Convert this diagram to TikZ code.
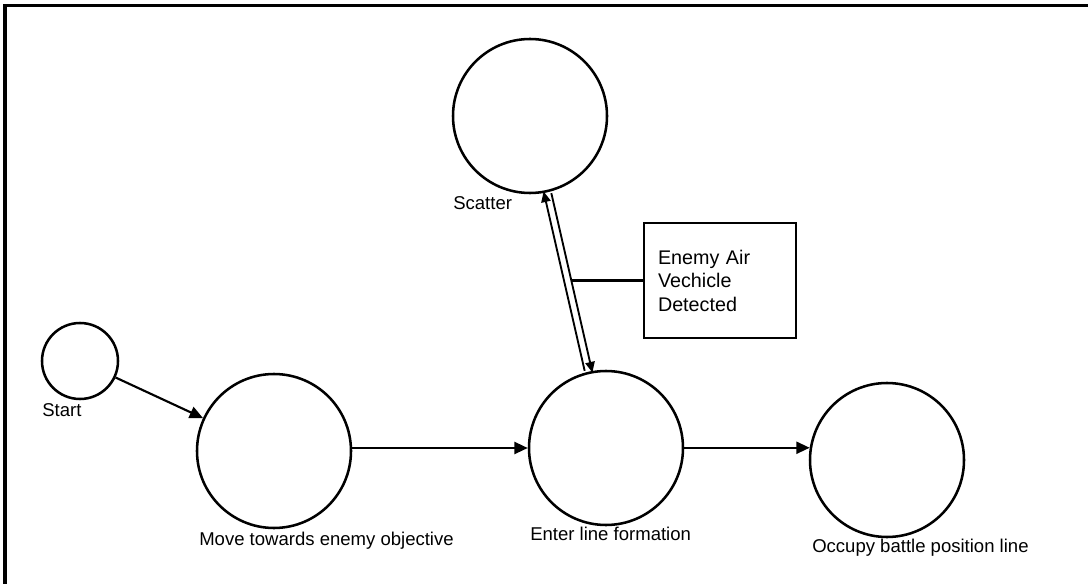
\documentclass[tikz,border=0pt]{standalone}
\usepackage{fontspec}
\setmainfont{Liberation Sans}
\usetikzlibrary{arrows.meta,calc}
\begin{document}
\begin{tikzpicture}[x=0.75pt,y=-0.75pt,
  state/.style={circle,draw,line width=1.9pt,inner sep=0pt,minimum size=115.5pt},
  small/.style={circle,draw,line width=1.9pt,inner sep=0pt,minimum size=57pt},
  lbl/.style={anchor=west,inner sep=0pt,font=\fontsize{13.9}{16}\selectfont},
  arr/.style={line width=1.6pt,-{Triangle[length=10pt,width=9pt]}},
  darr/.style={line width=1.4pt,-{Triangle[length=8pt,width=7pt]}},
  frame/.style={line width=2.6pt}]
\useasboundingbox (0,0) rectangle (1088,584);
\draw[frame] (5,584) -- (5,5.5) -- (1088,5.5);

\node[small] (start) at (80,361) {};
\node[state] (move) at (274,451) {};
\node[state] (enter) at (606,448) {};
\node[state] (occupy) at (887,460) {};
\node[state] (scatter) at (530,116) {};

\node[lbl] (startl) at (42,410) {Start};
\node[lbl] (scatterl) at (453,203) {Scatter};
\node[lbl] (movel) at (199,541) {Move towards enemy objective};
\node[lbl] (enterl) at (530,534) {Enter line formation};
\node[lbl] (occupyl) at (812,548) {Occupy battle position line};

\node[draw,line width=1.6pt,rectangle,minimum width=114pt,minimum height=86pt,
  inner xsep=10.5pt,text width=93pt,align=left,
  font=\fontsize{14.8}{17.6}\selectfont] (box) at (720,280.5)
  {Enemy Air\\Vechicle\\Detected};

\draw[arr] (start) -- (move);
\draw[arr] (move.east |- enter.west) -- (enter.west);
\draw[arr] (enter.east |- occupy.171) -- (occupy.171);

\draw[darr,transform canvas={shift={(-2.9pt,0.65pt)}}] (enter) -- (scatter);
\draw[darr,transform canvas={shift={(2.9pt,-0.65pt)}}] (scatter) -- (enter);

\coordinate (tap) at (571,282);
\draw[line width=1.6pt] (box.west) -- (box.west -| tap);
\end{tikzpicture}
\end{document}
